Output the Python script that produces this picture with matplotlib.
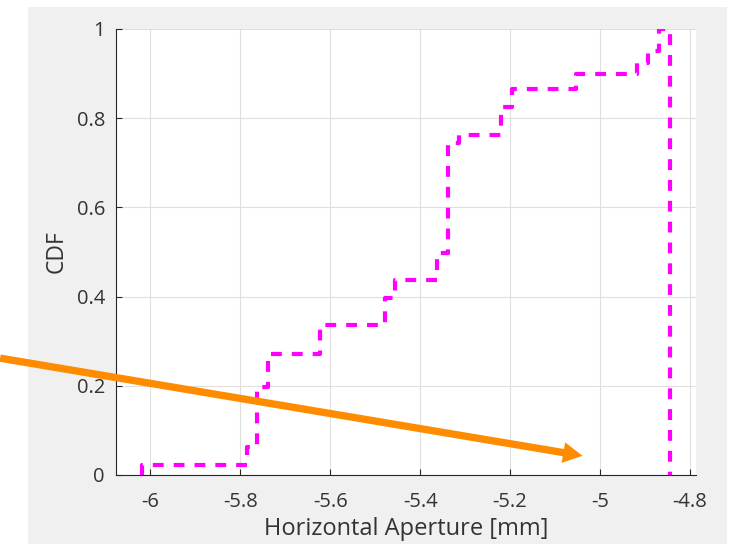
import numpy as np
import matplotlib.pyplot as plt
from matplotlib.patches import Rectangle, FancyArrowPatch
from matplotlib.ticker import FuncFormatter

plt.rcParams['font.family'] = ['Open Sans', 'DejaVu Sans']
plt.rcParams['axes.unicode_minus'] = False

# stair edges (mm) and CDF level reached at each edge
edges = [-6.019, -6.019, -5.785, -5.762, -5.738, -5.623, -5.478, -5.456, -5.363,
         -5.339, -5.314, -5.220, -5.196, -5.054, -4.917, -4.893, -4.869, -4.844]
cdf = [0.0, 0.022, 0.063, 0.197, 0.272, 0.336, 0.397, 0.437, 0.498,
       0.744, 0.762, 0.825, 0.865, 0.899, 0.924, 0.951, 1.0, 0.0]

xticks = [-6, -5.8, -5.6, -5.4, -5.2, -5, -4.8]
yticks = [0, 0.2, 0.4, 0.6, 0.8, 1]

# annotation arrow, data coords
arrow_start = (-6.334, 0.262)
arrow_end = (-5.039, 0.043)

txt = '#333333'
fig = plt.figure(figsize=(7.31, 5.44), dpi=100)
fig.patch.set_facecolor('white')
fig.patches.append(Rectangle((28/731, 0), 699/731, 537/544, transform=fig.transFigure,
                             facecolor='#f0f0f0', edgecolor='none', zorder=-10))

ax = fig.add_axes([116/731, 69/544, 580/731, 446/544])
ax.set_facecolor('white')
ax.step(edges, cdf, where='post', color='#ff00ff', lw=3, dashes=(2.6, 2.4),
        dash_capstyle='butt', zorder=3)

arr = FancyArrowPatch(arrow_start, arrow_end,
                      arrowstyle='simple,head_length=14,head_width=15,tail_width=5.3',
                      mutation_scale=1, color='#ff8c00', lw=0, zorder=5,
                      clip_on=False, shrinkA=0, shrinkB=0)
ax.add_patch(arr)

ax.set_xlim(-6.0763, -4.7867)
ax.set_ylim(0, 1)
ax.set_xticks(xticks)
ax.set_yticks(yticks)
ax.xaxis.set_major_formatter(FuncFormatter(lambda v, p: '%g' % v))
ax.yaxis.set_major_formatter(FuncFormatter(lambda v, p: '%g' % v))
ax.grid(True, color='#dfdfdf', lw=0.8)
ax.set_axisbelow(True)
for s in ['top', 'right']:
    ax.spines[s].set_visible(False)
for s in ['left', 'bottom']:
    ax.spines[s].set_color('#262626')
    ax.spines[s].set_linewidth(0.8)
ax.tick_params(direction='in', length=4, width=0.8, color='#262626', labelcolor=txt,
               labelsize=14.5)
ax.tick_params(axis='x', pad=12)
ax.tick_params(axis='y', pad=8)
ax.set_xlabel('Horizontal Aperture [mm]', fontsize=17, color=txt, labelpad=4)
ax.set_ylabel('CDF', fontsize=16.5, color=txt, labelpad=6)

fig.savefig('out.png', dpi=100)
